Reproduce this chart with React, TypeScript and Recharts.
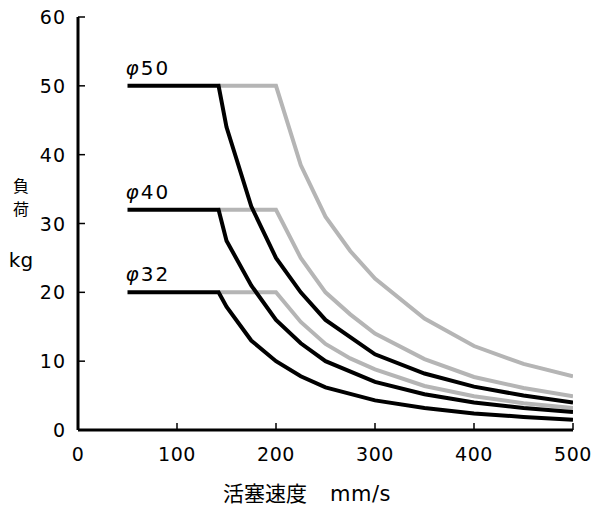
import { LineChart, Line, XAxis, YAxis, LabelList } from 'recharts'

// piston speed (mm/s) -> allowable load (kg)
const blackSpeeds = [50, 142, 150, 175, 200, 225, 250, 300, 350, 400, 450, 500]
const black50 = [50, 50, 44, 32.5, 25, 20, 16, 11, 8.2, 6.3, 5, 4]
const black40 = [32, 32, 27.5, 21, 16, 12.6, 10, 7, 5.2, 4, 3.2, 2.6]
const black32 = [20, 20, 17.9, 13, 10, 7.8, 6.2, 4.3, 3.2, 2.4, 1.9, 1.5]

const graySpeeds = [142, 200, 225, 250, 275, 300, 350, 400, 450, 500]
const gray50 = [50, 50, 38.5, 31, 26, 22, 16.2, 12.2, 9.6, 7.8]
const gray40 = [32, 32, 25, 20, 16.8, 14, 10.3, 7.7, 6.1, 4.9]
const gray32 = [20, 20, 15.7, 12.5, 10.4, 8.8, 6.4, 4.9, 3.9, 3.2]

const seriesNames = ['50', '40', '32']
const xTicks = [0, 100, 200, 300, 400, 500]
const yTicks = [0, 10, 20, 30, 40, 50, 60]

const FONT = "'DejaVu Sans', 'Noto Sans CJK JP', sans-serif"
const JP_FONT = "'Noto Sans CJK JP', 'DejaVu Sans', sans-serif"
const GRAY = '#b5b5b5'

const toPoints = (xs: number[], ys: number[]) => xs.map((x, i) => ({ x, y: ys[i] }))

const XTick = ({ x, y, payload }: any) => (
  <g>
    <line x1={x} x2={x} y1={y} y2={y - 7} stroke="#000" strokeWidth={1.5} />
    <text x={x} y={y + 31} textAnchor="middle" fontSize={19} letterSpacing={0.5} fontFamily={FONT} fill="#000">
      {payload.value}
    </text>
  </g>
)

const YTick = ({ x, y, payload }: any) => (
  <g>
    <line x1={x} x2={x + 7} y1={y} y2={y} stroke="#000" strokeWidth={1.5} />
    <text x={x - 12} y={y + 7} textAnchor="end" fontSize={19} letterSpacing={1} fontFamily={FONT} fill="#000">
      {payload.value}
    </text>
  </g>
)

const seriesLabel = (name: string) => (props: any) => {
  if (props.index !== 0) return null
  return (
    <text x={props.x - 2} y={props.y - 11} fontSize={20} letterSpacing={2} fontFamily={FONT} fill="#000">
      <tspan fontStyle="italic">φ</tspan>
      {name}
    </text>
  )
}

// vertical 負荷 + unit, stacked like the original
const YLabel = () => (
  <g fontFamily={JP_FONT} fill="#000">
    <text x={21} y={192} textAnchor="middle" fontSize={16}>負</text>
    <text x={21} y={215} textAnchor="middle" fontSize={16}>荷</text>
    <text x={21} y={267} textAnchor="middle" fontSize={20} fontFamily={FONT}>kg</text>
  </g>
)

const XLabel = () => (
  <text y={501} fontSize={21} fill="#000">
    <tspan x={223} fontFamily={JP_FONT}>活塞速度</tspan>
    <tspan x={330} fontFamily={FONT} letterSpacing={0.5}>mm/s</tspan>
  </text>
)

export default function App() {
  const grays = [gray50, gray40, gray32]
  const blacks = [black50, black40, black32]

  return (
    <div style={{ position: 'absolute', left: 0, top: 0, background: '#fff' }}>
      <LineChart width={593} height={513} margin={{ top: 17, right: 20, left: 0, bottom: 43 }}>
        <XAxis
          dataKey="x"
          type="number"
          domain={[0, 500]}
          ticks={xTicks}
          height={40}
          tickSize={0}
          tickMargin={0}
          tick={<XTick />}
          axisLine={{ stroke: '#000', strokeWidth: 3 }}
          label={<XLabel />}
          allowDataOverflow
        />
        <YAxis
          dataKey="y"
          type="number"
          domain={[0, 60]}
          ticks={yTicks}
          width={78}
          tickSize={0}
          tickMargin={0}
          tick={<YTick />}
          axisLine={{ stroke: '#000', strokeWidth: 3 }}
          label={<YLabel />}
          allowDataOverflow
        />
        {grays.map((g, i) => (
          <Line
            key={'g' + i}
            data={toPoints(graySpeeds, g)}
            dataKey="y"
            type="linear"
            stroke={GRAY}
            strokeWidth={4}
            dot={false}
            isAnimationActive={false}
          />
        ))}
        {blacks.map((b, i) => (
          <Line
            key={'b' + i}
            data={toPoints(blackSpeeds, b)}
            dataKey="y"
            type="linear"
            stroke="#000"
            strokeWidth={4}
            dot={false}
            isAnimationActive={false}
          >
            <LabelList dataKey="y" content={seriesLabel(seriesNames[i])} />
          </Line>
        ))}
      </LineChart>
    </div>
  )
}
